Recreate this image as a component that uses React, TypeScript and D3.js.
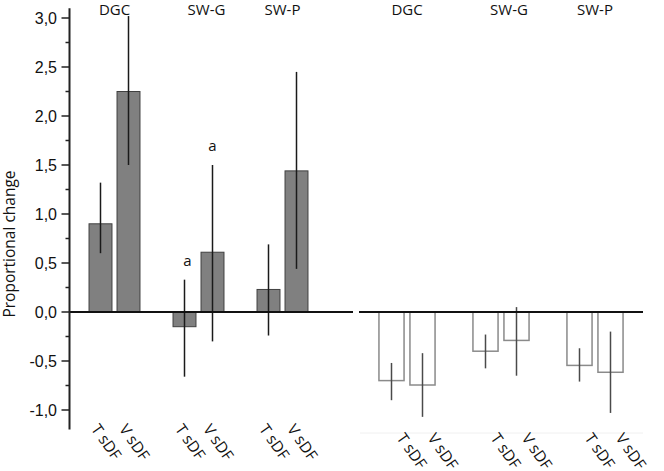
import React from 'react';
import * as d3 from 'd3';

const groups = ['DGC', 'SW-G', 'SW-P'];
const treatments = ['T sDF', 'V sDF'];

// left panel (filled bars): [T sDF, V sDF] per group
const leftMeans = [[0.90, 2.25], [-0.15, 0.61], [0.23, 1.44]];
const leftLow = [[0.60, 1.50], [-0.66, -0.30], [-0.24, 0.44]];
const leftHigh = [[1.32, 3.02], [0.33, 1.50], [0.69, 2.45]];
const leftSig = [['', ''], ['a', 'a'], ['', '']];

// right panel (open bars)
const rightMeans = [[-0.70, -0.745], [-0.40, -0.29], [-0.545, -0.615]];
const rightLow = [[-0.90, -1.07], [-0.575, -0.65], [-0.71, -1.03]];
const rightHigh = [[-0.52, -0.42], [-0.23, 0.05], [-0.37, -0.20]];

const yMajor = [-1, -0.5, 0, 0.5, 1, 1.5, 2, 2.5, 3];
const yMinor = [-0.75, -0.25, 0.25, 0.75, 1.25, 1.75, 2.25, 2.75];
const yLabel = 'Proportional change';

const W = 664;
const H = 471;
const titleShift = [0, 8, 0];

const fmt = d3.formatLocale({ decimal: ',', thousands: '.', grouping: [3], currency: ['', ''], minus: '-' }).format('.1f');

const sans = '"Open Sans", "Noto Sans", sans-serif';
const arial = '"Liberation Sans", Arial, sans-serif';

export default function App() {
  const y = d3.scaleLinear().domain([-1.2, 3.1]).range([429.6, 8.2]);
  const axisX = 69.5;

  const panels = [
    {
      x: d3.scaleBand<string>().domain(groups).range([72.5, 324.5]).padding(0),
      sub: d3.scaleBand<string>().domain(treatments).range([-28, 28]).paddingInner(0.18).paddingOuter(0.09),
      means: leftMeans, low: leftLow, high: leftHigh,
      zero: [69.5, 353],
      fill: '#808080', stroke: '#404040', err: '#1a1a1a',
      labDx: -10, labY: 429,
    },
    {
      x: d3.scaleBand<string>().domain(groups).range([360, 642]).padding(0),
      sub: d3.scaleBand<string>().domain(treatments).range([-31, 31]).paddingInner(0.19).paddingOuter(0.095),
      means: rightMeans, low: rightLow, high: rightHigh,
      zero: [359, 643],
      fill: '#ffffff', stroke: '#8a8a8a', err: '#4a4a4a',
      labDx: 4.5, labY: 438,
    },
  ];

  return (
    <svg width={W} height={H} style={{ position: 'absolute', left: 0, top: 0, background: '#fff' }}>
      <rect x={0} y={0} width={W} height={H} fill="#fff" />
      <line x1={360} x2={643} y1={433} y2={433} stroke="#f0f0f0" strokeWidth={1} />
      {panels.map((p, pi) => (
        <g key={pi}>
          {groups.map((g, gi) => {
            const gc = (p.x(g) as number) + p.x.bandwidth() / 2;
            return (
              <g key={g}>
                <text x={gc + titleShift[gi]} y={15} textAnchor="middle" fontFamily={sans} fontSize={15} fill="#111">{g}</text>
                {treatments.map((t, ti) => {
                  const bx = gc + (p.sub(t) as number);
                  const bw = p.sub.bandwidth();
                  const cx = bx + bw / 2;
                  const v = p.means[gi][ti];
                  const y0 = y(0);
                  const yv = y(v);
                  return (
                    <g key={t}>
                      <rect x={bx} y={Math.min(y0, yv)} width={bw} height={Math.abs(yv - y0)} fill={p.fill} stroke={p.stroke} strokeWidth={pi === 0 ? 1 : 1.5} />
                      <line x1={cx} x2={cx} y1={y(p.low[gi][ti])} y2={y(p.high[gi][ti])} stroke={p.err} strokeWidth={1.5} />
                      {pi === 0 && leftSig[gi][ti] && (
                        <text x={cx + (ti === 0 ? 3 : 0)} y={y(p.high[gi][ti]) - 14} textAnchor="middle" fontFamily={sans} fontSize={15} fill="#111">{leftSig[gi][ti]}</text>
                      )}
                      <text transform={`translate(${cx + p.labDx},${p.labY}) rotate(55)`} fontFamily={sans} fontSize={15.5} fill="#111">{t}</text>
                    </g>
                  );
                })}
              </g>
            );
          })}
          <line x1={p.zero[0]} x2={p.zero[1]} y1={y(0)} y2={y(0)} stroke="#111" strokeWidth={2} />
        </g>
      ))}
      <line x1={axisX} x2={axisX} y1={y(3.1)} y2={y(-1.2)} stroke="#222" strokeWidth={2} />
      {yMajor.map(v => (
        <g key={v}>
          <line x1={axisX - 8} x2={axisX} y1={y(v)} y2={y(v)} stroke="#222" strokeWidth={1.5} />
          <text x={57} y={y(v)} dy="0.36em" textAnchor="end" fontFamily={arial} fontSize={16} fill="#111">{fmt(v)}</text>
        </g>
      ))}
      {yMinor.map(v => (
        <line key={v} x1={axisX - 4} x2={axisX} y1={y(v)} y2={y(v)} stroke="#222" strokeWidth={1.5} />
      ))}
      <text transform={`translate(15,244) rotate(-90)`} textAnchor="middle" fontFamily={sans} fontSize={15.5} fill="#111">{yLabel}</text>
    </svg>
  );
}
